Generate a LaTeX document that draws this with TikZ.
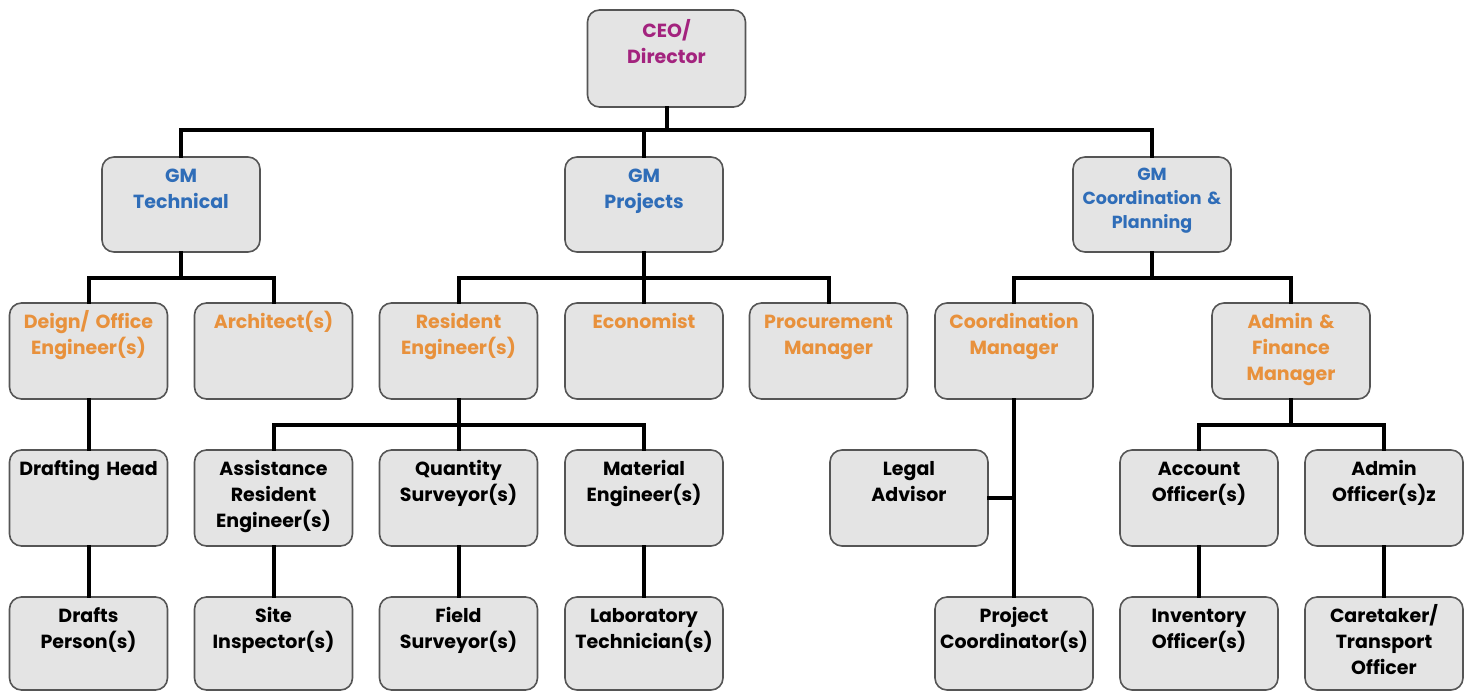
\documentclass[tikz,border=0pt]{standalone}
\usepackage{fontspec}
\setmainfont{Poppins}
\definecolor{ceoc}{HTML}{A3237E}
\definecolor{gmc}{HTML}{2F6DB8}
\definecolor{orc}{HTML}{E8913C}
\definecolor{boxf}{HTML}{E4E4E4}
\definecolor{boxd}{HTML}{555555}
\begin{document}
\begin{tikzpicture}[x=1pt,y=-1pt,
  box/.style={draw=boxd, line width=1.6pt, fill=boxf, rounded corners=12pt,
    inner sep=0pt, text width=154pt, minimum width=158pt, align=center,
    text height=25pt, text depth=71pt,
    font=\fontsize{19}{26}\selectfont\bfseries},
  lo/.style={text depth=68pt},
  ceobox/.style={box, text height=27pt, text depth=70pt, text=ceoc},
  gmbox/.style={box, text depth=70pt, text=gmc},
  orbox/.style={box, text=orc},
  conn/.style={line width=4pt, line cap=rect}]
\useasboundingbox (0,0) rectangle (1472,694);
% level 0
\node[ceobox] (ceo) at (666.5,58.5) {CEO/\\Director};
% level 1
\node[gmbox] (gmt) at (181,204.5) {GM\\Technical};
\node[gmbox] (gmp) at (644,204.5) {GM\\Projects};
\node[gmbox, text height=23pt, text depth=72pt, font=\fontsize{17.5}{24}\selectfont\bfseries] (gmcp) at (1152,204.5) {GM\\Coordination \&\\Planning};
% level 2
\node[orbox] (des) at (88.5,351) {Deign/ Office\\Engineer(s)};
\node[orbox] (arc) at (273.5,351) {Architect(s)};
\node[orbox] (res) at (458.5,351) {Resident\\Engineer(s)};
\node[orbox] (eco) at (644,351) {Economist};
\node[orbox] (pro) at (828.5,351) {Procurement\\Manager};
\node[orbox] (com) at (1014,351) {Coordination\\Manager};
\node[orbox] (afm) at (1291,351) {Admin \&\\Finance\\Manager};
% level 3
\node[box] (dh) at (88.5,498) {Drafting Head};
\node[box] (are) at (273.5,498) {Assistance\\Resident\\Engineer(s)};
\node[box] (qs) at (458.5,498) {Quantity\\Surveyor(s)};
\node[box] (me) at (644,498) {Material\\Engineer(s)};
\node[box] (la) at (909,498) {Legal\\Advisor};
\node[box] (ao) at (1199,498) {Account\\Officer(s)};
\node[box] (ado) at (1384,498) {Admin\\Officer(s)z};
% level 4
\node[box,lo] (dp) at (88.5,643.5) {Drafts\\Person(s)};
\node[box,lo] (si) at (273.5,643.5) {Site\\Inspector(s)};
\node[box,lo] (fs) at (458.5,643.5) {Field\\Surveyor(s)};
\node[box,lo] (lt) at (644,643.5) {Laboratory\\Technician(s)};
\node[box,lo] (pc) at (1014,643.5) {Project\\Coordinator(s)};
\node[box,lo] (io) at (1199,643.5) {Inventory\\Officer(s)};
\node[box,lo] (ct) at (1384,643.5) {Caretaker/\\Transport\\Officer};
% buses
\coordinate (b0) at (666.5,130);
\coordinate (b1) at (0,278);
\coordinate (b2) at (0,425);
\draw[conn] (ceo.south) -- (b0);
\draw[conn] (gmt.north) -- (gmt.north |- b0) -- (gmcp.north |- b0) -- (gmcp.north);
\draw[conn] (gmp.north) -- (gmp.north |- b0);
% GM Technical
\draw[conn] (gmt.south) -- (gmt.south |- b1);
\draw[conn] (des.north) -- (des.north |- b1) -- (arc.north |- b1) -- (arc.north);
% GM Projects
\draw[conn] (gmp.south) -- (gmp.south |- b1);
\draw[conn] (res.north) -- (res.north |- b1) -- (pro.north |- b1) -- (pro.north);
\draw[conn] (eco.north) -- (eco.north |- b1);
% GM Coordination
\draw[conn] (gmcp.south) -- (gmcp.south |- b1);
\draw[conn] (com.north) -- (com.north |- b1) -- (afm.north |- b1) -- (afm.north);
% Design chain
\draw[conn] (des.south) -- (dh.north);
\draw[conn] (dh.south) -- (dp.north);
% Resident
\draw[conn] (res.south) -- (res.south |- b2);
\draw[conn] (are.north) -- (are.north |- b2) -- (me.north |- b2) -- (me.north);
\draw[conn] (qs.north) -- (qs.north |- b2);
\draw[conn] (are.south) -- (si.north);
\draw[conn] (qs.south) -- (fs.north);
\draw[conn] (me.south) -- (lt.north);
% Coordination manager
\draw[conn] (com.south) -- (pc.north);
\draw[conn] (la.east) -- (la.east -| com.south);
% Admin finance
\draw[conn] (afm.south) -- (afm.south |- b2);
\draw[conn] (ao.north) -- (ao.north |- b2) -- (ado.north |- b2) -- (ado.north);
\draw[conn] (ao.south) -- (io.north);
\draw[conn] (ado.south) -- (ct.north);
\end{tikzpicture}
\end{document}
